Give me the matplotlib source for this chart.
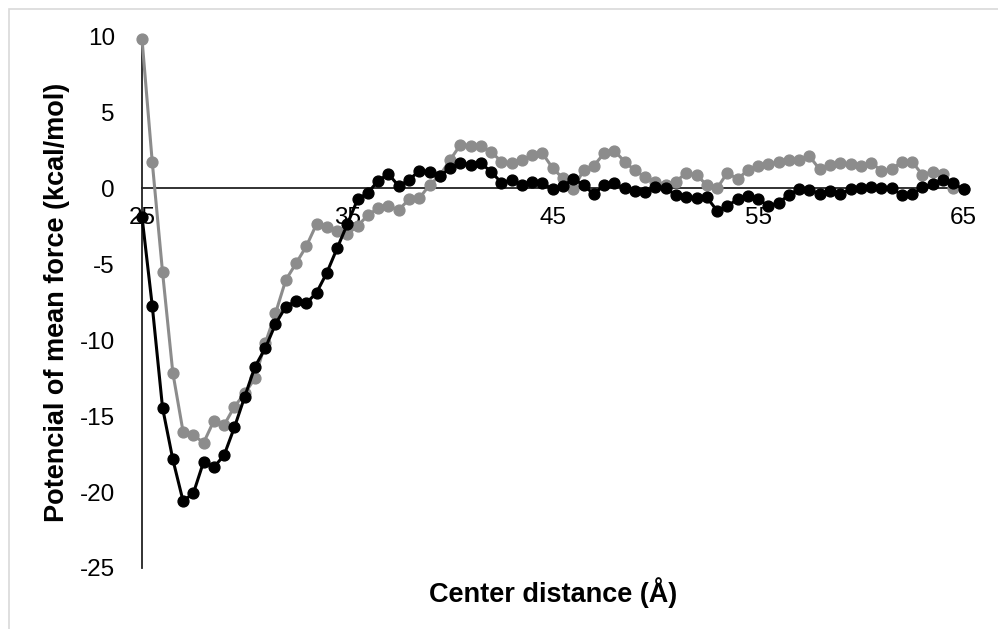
import numpy as np
import matplotlib
matplotlib.use("Agg")
import matplotlib.pyplot as plt
from matplotlib.patches import Rectangle

# Center distance (Å), 0.5 Å sampling
distance = np.arange(25.0, 65.0 + 0.25, 0.5)

# Gray series (PMF, kcal/mol)
pmf_gray = [
    9.85, 1.73, -5.50, -12.13, -16.02, -16.24, -16.75, -15.30, -15.58, -14.37,
    -13.50, -12.50, -10.20, -8.22, -6.03, -4.93, -3.81, -2.34, -2.52, -2.78,
    -3.00, -2.47, -1.75, -1.30, -1.15, -1.42, -0.71, -0.65, 0.23, 0.85,
    1.88, 2.87, 2.83, 2.80, 2.42, 1.77, 1.70, 1.88, 2.21, 2.32,
    1.33, 0.67, -0.05, 1.22, 1.50, 2.32, 2.49, 1.77, 1.19, 0.74,
    0.45, 0.23, 0.45, 1.04, 0.89, 0.23, 0.01, 1.04, 0.61, 1.22,
    1.48, 1.61, 1.77, 1.88, 1.88, 2.12, 1.26, 1.55, 1.70, 1.61,
    1.48, 1.70, 1.17, 1.26, 1.77, 1.77, 0.89, 1.11, 0.96, 0.01,
    -0.05,
]

# Black series (PMF, kcal/mol)
pmf_black = [
    -1.86, -7.74, -14.44, -17.84, -20.59, -20.08, -18.00, -18.37, -17.56, -15.73,
    -13.72, -11.74, -10.53, -8.93, -7.79, -7.40, -7.56, -6.86, -5.55, -3.94,
    -2.34, -0.71, -0.28, 0.51, 0.96, 0.16, 0.56, 1.17, 1.11, 0.82,
    1.33, 1.68, 1.58, 1.66, 1.11, 0.38, 0.56, 0.23, 0.45, 0.34,
    -0.05, 0.16, 0.63, 0.23, -0.38, 0.23, 0.34, 0.01, -0.14, -0.21,
    0.08, 0.01, -0.43, -0.58, -0.65, -0.58, -1.46, -1.15, -0.71, -0.49,
    -0.71, -1.15, -0.94, -0.43, -0.02, -0.08, -0.36, -0.14, -0.36, -0.05,
    0.01, 0.08, 0.01, 0.01, -0.43, -0.36, 0.08, 0.30, 0.56, 0.34,
    -0.05,
]

x_ticks = [25, 35, 45, 55, 65]
y_ticks = [-25, -20, -15, -10, -5, 0, 5, 10]

plt.rcParams['font.family'] = ['Liberation Sans', 'DejaVu Sans']

W, H = 998, 629
fig = plt.figure(figsize=(W / 100, H / 100), dpi=100)
fig.patch.set_facecolor('white')

# light chart-area border (top and left visible)
fig.patches.append(Rectangle((9 / W, -0.1), 1.2, 1 - 9 / H + 0.1,
                             transform=fig.transFigure, fill=False,
                             edgecolor='#d9d9d9', linewidth=1.2))

left, right = 142 / W, 963.5 / W
top, bottom = 1 - 36.7 / H, 1 - 568 / H
ax = fig.add_axes([left, bottom, right - left, top - bottom])

ax.plot(distance, pmf_gray, color='#8c8c8c', linewidth=2.2, marker='o',
        markersize=7.8, clip_on=False, zorder=3)
ax.plot(distance, pmf_black, color='#000000', linewidth=2.2, marker='o',
        markersize=7.8, clip_on=False, zorder=4)

ax.set_xlim(25, 65)
ax.set_ylim(-25, 10)
ax.set_xticks(x_ticks)
ax.set_yticks(y_ticks)
ax.set_xticklabels([str(v) for v in x_ticks])
ax.set_yticklabels([str(v) for v in y_ticks])

for s in ['top', 'right']:
    ax.spines[s].set_visible(False)
ax.spines['bottom'].set_position(('data', 0))
ax.spines['bottom'].set_color('#222222')
ax.spines['left'].set_color('#222222')
ax.spines['bottom'].set_linewidth(1.3)
ax.spines['left'].set_linewidth(1.3)
ax.spines['bottom'].set_zorder(2)

ax.tick_params(axis='x', length=0, pad=13.5, labelsize=17.5, colors='#000000')
ax.tick_params(axis='y', length=0, pad=19.5, labelsize=17.5, colors='#000000')

fig.text(553.3 / W, 1 - 593 / H, 'Center distance (Å)', ha='center', va='center',
         fontsize=19.5, fontweight='bold')
fig.text(57 / W, 1 - 302 / H, 'Potencial of mean force (kcal/mol)', ha='center',
         va='center', rotation=90, fontsize=19.5, fontweight='bold')

fig.savefig('out.png', dpi=100)
